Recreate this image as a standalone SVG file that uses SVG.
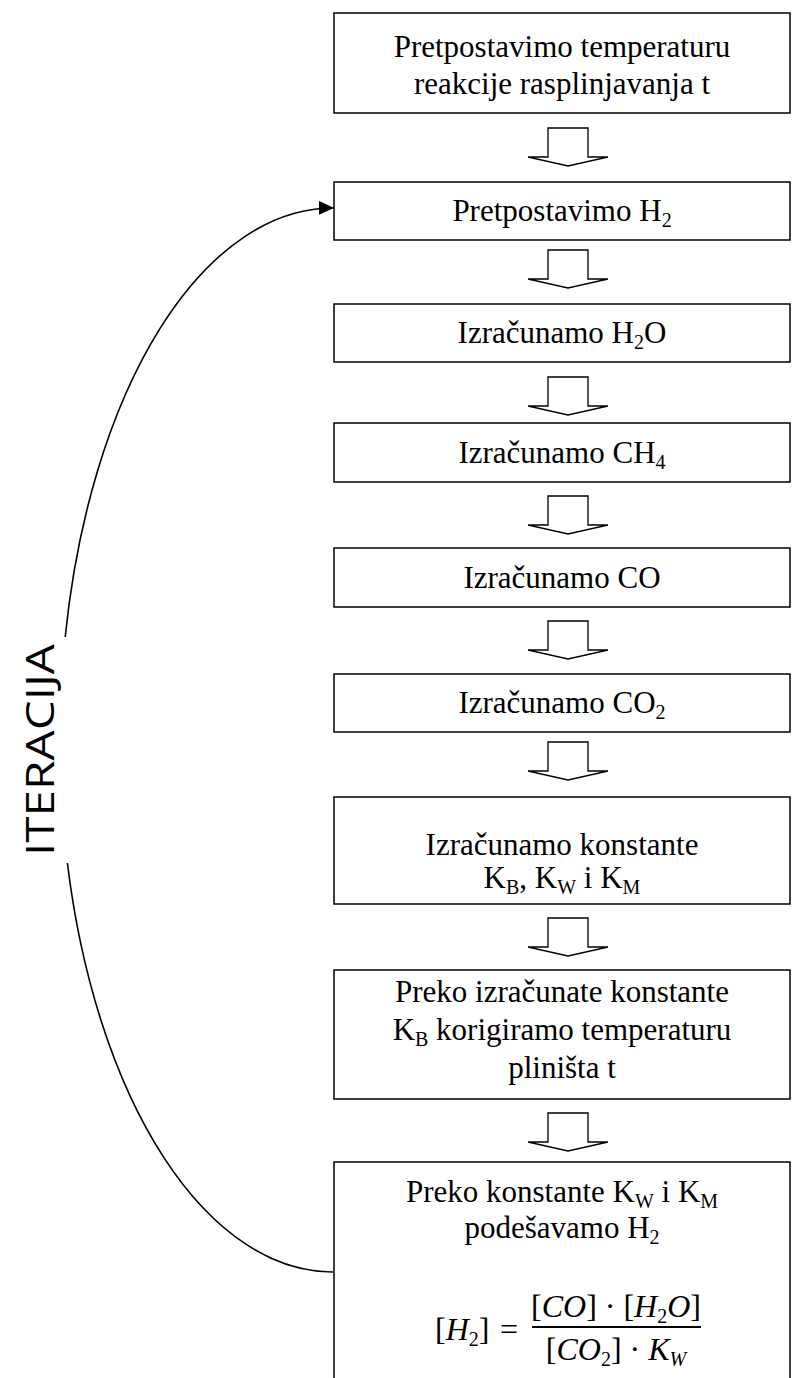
<svg xmlns="http://www.w3.org/2000/svg" xmlns:xlink="http://www.w3.org/1999/xlink" width="792" height="1378" viewBox="0 0 792 1378">
<style>
.box{fill:#fff;stroke:#000;stroke-width:1.5}
.t{font-family:"Liberation Serif","Times New Roman",serif;font-size:31px;fill:#000;text-anchor:middle}
.sub{font-size:20px}
.m{font-family:"Liberation Serif","Times New Roman",serif;font-size:32px;fill:#000}
.it{font-style:italic}
.blk{fill:#fff;stroke:#000;stroke-width:1.3;stroke-linejoin:miter}
.curve{fill:none;stroke:#000;stroke-width:1.6}
.lbl{font-family:"Open Sans","Liberation Sans",sans-serif;font-size:38px;font-weight:400;fill:#000}
</style>
<defs>
<polygon id="blockArrow" class="blk" points="548,0 588,0 588,29 608,29 568,38 528,29 548,29"/>
<marker id="ah" viewBox="0 0 15 14" refX="15" refY="7" markerWidth="15" markerHeight="14" markerUnits="userSpaceOnUse" orient="auto">
<path d="M0,0 L15,7 L0,14 z" fill="#000"/>
</marker>
</defs>

<g id="connectors">
<use xlink:href="#blockArrow" transform="translate(0,128)"/>
<use xlink:href="#blockArrow" transform="translate(0,250)"/>
<use xlink:href="#blockArrow" transform="translate(0,377)"/>
<use xlink:href="#blockArrow" transform="translate(0,496)"/>
<use xlink:href="#blockArrow" transform="translate(0,621)"/>
<use xlink:href="#blockArrow" transform="translate(0,742)"/>
<use xlink:href="#blockArrow" transform="translate(0,918)"/>
<use xlink:href="#blockArrow" transform="translate(0,1113)"/>
<path class="curve" d="M65.2,637 A273,532 0 0 1 334,208" marker-end="url(#ah)"/>
<path class="curve" d="M333,1272 A273,532 0 0 1 67.4,863"/>
</g>

<g id="label-iteracija">
<text class="lbl" transform="translate(54,750) rotate(-90)" text-anchor="middle" textLength="212" lengthAdjust="spacingAndGlyphs">ITERACIJA</text>
</g>

<g id="n1">
<rect class="box" x="334" y="13" width="456" height="100"/>
<text class="t" x="562" y="57">Pretpostavimo temperaturu</text>
<text class="t" x="562" y="94">reakcije rasplinjavanja t</text>
</g>

<g id="n2">
<rect class="box" x="334" y="182" width="456" height="58"/>
<text class="t" x="562" y="221">Pretpostavimo H<tspan class="sub" dy="6">2</tspan></text>
</g>

<g id="n3">
<rect class="box" x="334" y="304" width="456" height="58"/>
<text class="t" x="562" y="343">Izračunamo H<tspan class="sub" dy="6">2</tspan><tspan dy="-6">O</tspan></text>
</g>

<g id="n4">
<rect class="box" x="334" y="423" width="456" height="59"/>
<text class="t" x="562" y="463">Izračunamo CH<tspan class="sub" dy="6">4</tspan></text>
</g>

<g id="n5">
<rect class="box" x="334" y="548" width="456" height="59"/>
<text class="t" x="562" y="588">Izračunamo CO</text>
</g>

<g id="n6">
<rect class="box" x="334" y="674" width="456" height="58"/>
<text class="t" x="562" y="713">Izračunamo CO<tspan class="sub" dy="6">2</tspan></text>
</g>

<g id="n7">
<rect class="box" x="334" y="797" width="456" height="107"/>
<text class="t" x="562" y="855">Izračunamo konstante</text>
<text class="t" x="562" y="888">K<tspan class="sub" dy="6">B</tspan><tspan dy="-6">, K</tspan><tspan class="sub" dy="6">W</tspan><tspan dy="-6"> i K</tspan><tspan class="sub" dy="6">M</tspan></text>
</g>

<g id="n8">
<rect class="box" x="334" y="970" width="456" height="129"/>
<text class="t" x="562" y="1002">Preko izračunate konstante</text>
<text class="t" x="562" y="1040">K<tspan class="sub" dy="6">B</tspan><tspan dy="-6"> korigiramo temperaturu</tspan></text>
<text class="t" x="562" y="1078">pliništa t</text>
</g>

<g id="n9">
<rect class="box" x="334" y="1162" width="456" height="240"/>
<text class="t" x="562" y="1202">Preko konstante K<tspan class="sub" dy="6">W</tspan><tspan dy="-6"> i K</tspan><tspan class="sub" dy="6">M</tspan></text>
<text class="t" x="562" y="1238">podešavamo H<tspan class="sub" dy="6">2</tspan></text>
<text class="m" x="435" y="1340">[<tspan class="it">H</tspan><tspan class="sub" dy="6">2</tspan><tspan dy="-6">]</tspan></text>
<text class="m" x="500" y="1340">=</text>
<text class="m" x="616" y="1317" text-anchor="middle">[<tspan class="it">CO</tspan>] · [<tspan class="it">H</tspan><tspan class="sub" dy="6">2</tspan><tspan class="it" dy="-6">O</tspan>]</text>
<line x1="532" y1="1327" x2="701" y2="1327" stroke="#000" stroke-width="2"/>
<text class="m" x="616" y="1360" text-anchor="middle">[<tspan class="it">CO</tspan><tspan class="sub" dy="6">2</tspan><tspan dy="-6">] · </tspan><tspan class="it">K</tspan><tspan class="sub it" dy="6">W</tspan></text>
</g>
</svg>
